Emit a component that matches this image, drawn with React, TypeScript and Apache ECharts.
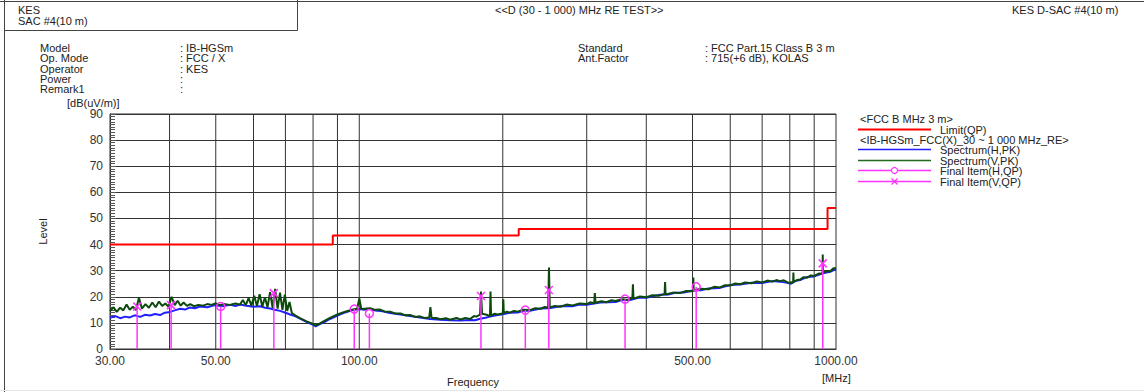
import React, { useEffect, useRef } from "react";
import * as echarts from "echarts";

// ---- data: [frequency MHz, level dB(uV/m)] ----
const limitQP: number[][] = [
  [30, 40], [88, 40], [88, 43.5], [216, 43.5], [216, 46], [960, 46], [960, 54], [1000, 54],
];

const spectrumH: number[][] = [
  [30, 12.0], [30.8, 12.6], [31.5, 11.8], [32.3, 12.4], [33.0, 12.1], [33.8, 12.9], [34.7, 12.3], [35.5, 13.1],
  [36.4, 12.8], [37.3, 13.4], [38.2, 13.0], [39.1, 13.9], [40.1, 14.2], [41.0, 14.8], [42.1, 15.4], [43.1, 15.1],
  [44.1, 15.9], [45.2, 15.6], [46.3, 16.3], [48.0, 16.0], [49.8, 16.8], [51.5, 16.4], [53.6, 16.9], [55.0, 16.5],
  [56.2, 17.0], [58.0, 16.6], [60.0, 16.2], [61.9, 16.4], [63.5, 15.8], [65.0, 15.5], [66.5, 15.0], [68.2, 14.6],
  [70.0, 13.9], [71.6, 13.2], [73.5, 12.5], [75.1, 11.6], [77.5, 10.4], [80.0, 9.3], [81.0, 8.7], [82.7, 9.5],
  [84.5, 10.3], [86.8, 11.5], [90.0, 12.8], [93.4, 14.0], [96.5, 14.8], [100, 15.3], [102.5, 15.0], [105.3, 15.4],
  [108, 14.7], [110.6, 14.6], [116, 13.8], [122, 13.2], [127.8, 12.6], [134, 12.1], [140.8, 11.5], [148, 11.2],
  [155, 11.0], [163, 10.9], [170.8, 11.1], [175, 11.0], [179.2, 11.6], [184, 12.0], [188, 12.4], [195, 13.0],
  [200, 13.3], [207, 13.9], [215, 14.0], [222, 14.7], [228, 14.6], [240, 15.5], [250, 15.6], [264, 16.4],
  [280, 16.4], [290, 17.0], [300, 16.9], [320, 17.8], [345, 18.0], [358, 18.9], [370, 18.8], [385, 19.6],
  [400, 19.6], [427, 20.8], [445, 20.9], [460, 21.5], [480, 21.6], [500, 22.4], [520, 22.5], [540, 23.2],
  [571, 23.4], [600, 24.5], [629, 24.7], [665, 25.4], [700, 25.3], [735, 26.0], [763, 25.8], [790, 25.4],
  [805, 25.0], [820, 26.0], [841, 26.4], [870, 27.6], [900, 27.8], [939, 29.0], [972, 29.6], [1000, 30.6],
];

const spectrumV: number[][] = [
  [30, 14.5], [30.5, 16.0], [31.0, 14.2], [31.5, 15.8], [32.0, 14.8], [32.5, 17.0], [33.0, 15.0], [33.5, 16.2],
  [34.0, 14.9], [34.5, 19.6], [35.0, 15.5], [35.6, 17.2], [36.2, 15.8], [36.8, 17.8], [37.4, 16.0], [38.0, 18.2],
  [38.6, 16.5], [39.2, 17.4], [39.8, 16.2], [40.4, 20.0], [41.0, 16.8], [41.6, 18.5], [42.2, 16.6], [42.8, 17.8],
  [43.5, 16.5], [44.2, 17.2], [45.0, 16.4], [46.0, 16.9], [47.0, 16.6], [48.0, 17.2], [49.0, 16.9], [50.0, 17.5],
  [51.0, 16.8], [52.0, 17.2], [53.5, 16.9], [55.0, 17.4], [56.2, 17.0], [57.0, 18.8], [57.8, 16.8], [58.6, 19.5],
  [59.4, 16.6], [60.2, 20.4], [61.0, 16.5], [61.8, 21.0], [62.6, 16.2], [63.4, 19.8], [64.2, 16.0], [65.0, 21.8],
  [65.8, 15.8], [66.6, 23.0], [67.4, 15.5], [68.2, 21.6], [69.0, 15.0], [69.8, 20.8], [70.6, 14.6], [71.4, 18.0],
  [72.2, 13.8], [73.5, 12.8], [75.1, 11.8], [77.5, 10.6], [80.0, 9.6], [81.0, 9.0], [82.7, 9.8], [84.5, 10.8],
  [86.8, 11.9], [90.0, 13.2], [93.4, 14.3], [96.5, 15.0], [99.0, 15.4], [100.0, 19.4], [101.0, 15.3],
  [105.3, 15.6], [108, 15.0], [110.6, 15.1], [113, 14.4], [116, 14.3], [119, 13.6], [122, 13.6], [125, 12.9],
  [127.8, 13.0], [131, 12.3], [134, 12.5], [137, 11.9], [140.2, 12.1], [141.0, 16.0], [141.8, 11.9], [145, 11.9],
  [148, 11.4], [152, 11.8], [155, 11.2], [160, 11.9], [163, 11.3], [167, 11.9], [170.8, 11.5], [174, 12.6],
  [176, 12.4], [179.2, 13.2], [180, 22.0], [181, 13.5], [185, 13.1], [188, 12.6], [188.5, 22.0], [189, 12.8],
  [192, 13.5], [195, 13.2], [200, 13.6], [200.5, 19.0], [201, 13.7], [204, 14.3], [207, 13.9], [211, 14.6],
  [215, 14.3], [220, 15.0], [228, 14.9], [234, 15.6], [240, 15.4], [245, 16.1], [249, 15.8], [250, 31.2],
  [251, 15.9], [257, 16.5], [264, 16.2], [272, 17.0], [280, 16.7], [290, 17.4], [300, 17.2], [305, 17.9],
  [311, 17.5], [312, 21.4], [313, 17.7], [322, 18.3], [330, 17.9], [338, 18.7], [345, 18.4], [355, 19.1],
  [365, 18.8], [374, 19.5], [375, 24.8], [376, 19.3], [388, 20.1], [400, 19.8], [412, 20.6], [425, 20.4],
  [437, 21.1], [438, 25.6], [439, 20.9], [455, 21.6], [470, 21.4], [485, 22.2], [501, 22.1], [502, 27.4],
  [503, 22.4], [520, 23.1], [540, 22.9], [555, 23.8], [571, 23.6], [585, 24.4], [600, 24.3], [615, 25.1],
  [629, 24.8], [645, 25.5], [665, 25.2], [682, 25.9], [700, 25.5], [718, 26.2], [735, 25.8], [750, 26.4],
  [763, 26.0], [777, 26.3], [790, 25.6], [798, 25.2], [805, 25.6], [813, 25.4], [814, 29.3], [815, 25.7],
  [828, 26.4], [841, 26.6], [855, 27.5], [870, 27.3], [885, 28.2], [900, 28.0], [920, 28.9], [937, 28.8],
  [938, 36.2], [939, 29.2], [955, 29.9], [972, 29.7], [986, 30.8], [1000, 31.0],
];

const finalH: number[][] = [[51.2, 16.3], [97.6, 15.3], [105.0, 13.6], [223, 14.9], [361, 19.1], [509, 23.8]];
const finalV: number[][] = [[34.2, 16.3], [40.3, 16.8], [66.2, 21.4], [180, 20.3], [249.8, 22.6], [938, 32.8]];

const gridFreqs = [40, 50, 60, 70, 80, 90, 100, 200, 300, 400, 500, 600, 700, 800, 900];
const xTickFreqs = [30, 50, 100, 500, 1000];
const xTickLabels = ["30.00", "50.00", "100.00", "500.00", "1000.00"];

const infoLeftLabels = ["Model", "Op. Mode", "Operator", "Power", "Remark1"];
const infoLeftValues = [": IB-HGSm", ": FCC / X", ": KES", ":", ":"];
const infoRightLabels = ["Standard", "Ant.Factor"];
const infoRightValues = [": FCC Part.15 Class B 3 m", ": 715(+6 dB), KOLAS"];

const legendTitles = ["<FCC B MHz 3 m>", "<IB-HGSm_FCC(X)_30 ~ 1 000 MHz_RE>"];
const legendItems = ["Limit(QP)", "Spectrum(H,PK)", "Spectrum(V,PK)", "Final Item(H,QP)", "Final Item(V,QP)"];

const FONT = "'Liberation Sans', Arial, sans-serif";
const MAG = "#ff33ff";
const RED = "#ff0000";
const BLUE = "#2020ff";
const GREEN = "#0c4a0c";
const GRID = "#333333";

export default function App() {
  const ref = useRef<HTMLDivElement>(null);

  useEffect(() => {
    const chart = echarts.init(ref.current as HTMLDivElement, null, { renderer: "svg" });

    const txt = (x: number, y: number, text: string, extra: any = {}) => ({
      type: "text",
      x,
      y,
      silent: true,
      style: { text, fill: "#222", fontSize: 11, fontFamily: FONT, verticalAlign: "middle", ...extra },
    });
    const ln = (x1: number, y1: number, x2: number, y2: number, stroke: string, lineWidth = 1) => ({
      type: "line",
      silent: true,
      shape: { x1, y1, x2, y2 },
      style: { stroke, lineWidth },
    });

    const graphics: any[] = [
      ln(0, 1.5, 1144, 1.5, "#444", 1),
      ln(4.5, 0, 4.5, 392, "#444", 1),
      ln(4.5, 30.5, 297.5, 30.5, "#444", 1),
      ln(297.5, 0, 297.5, 30.5, "#444", 1),
      ln(0, 390.5, 1144, 390.5, "#e4e4e4", 1),
      txt(18, 10, "KES"),
      txt(18, 21, "SAC #4(10 m)"),
      txt(495, 10, "<<D (30 - 1 000) MHz RE TEST>>"),
      txt(1012, 10, "KES D-SAC #4(10 m)"),
      txt(67, 103, "[dB(uV/m)]"),
      txt(822, 378, "[MHz]"),
    ];
    infoLeftLabels.forEach((t, i) => graphics.push(txt(40, 48 + i * 10.3, t)));
    infoLeftValues.forEach((t, i) => graphics.push(txt(180, 48 + i * 10.3, t)));
    infoRightLabels.forEach((t, i) => graphics.push(txt(578, 48 + i * 10.3, t)));
    infoRightValues.forEach((t, i) => graphics.push(txt(705, 48 + i * 10.3, t)));

    // legend
    const lx1 = 858, lx2 = 931, ltx = 940;
    graphics.push(txt(860, 119, legendTitles[0]));
    graphics.push(ln(lx1, 129.5, lx2, 129.5, RED, 2));
    graphics.push(txt(ltx, 130, legendItems[0]));
    graphics.push(txt(860, 140, legendTitles[1]));
    graphics.push(ln(lx1, 149.5, lx2, 149.5, BLUE, 1.3));
    graphics.push(txt(ltx, 150, legendItems[1]));
    graphics.push(ln(lx1, 160.5, lx2, 160.5, "#1f6a1f", 1.3));
    graphics.push(txt(ltx, 160.5, legendItems[2]));
    graphics.push(ln(lx1, 170.5, lx2, 170.5, MAG, 1.3));
    graphics.push({ type: "circle", silent: true, shape: { cx: 894.5, cy: 170.5, r: 3 }, style: { fill: "#fff", stroke: MAG, lineWidth: 1.2 } });
    graphics.push(txt(ltx, 171, legendItems[3]));
    graphics.push(ln(lx1, 181.5, lx2, 181.5, MAG, 1.3));
    graphics.push(ln(891.5, 178.5, 897.5, 184.5, MAG, 1.2));
    graphics.push(ln(897.5, 178.5, 891.5, 184.5, MAG, 1.2));
    graphics.push(txt(ltx, 181.5, legendItems[4]));

    const stemSeries = (data: number[][], kind: "o" | "x") => ({
      type: "custom",
      z: 5,
      data,
      encode: { x: 0, y: 1 },
      renderItem: (params: any, api: any) => {
        const f = api.value(0);
        const v = api.value(1);
        const b = api.coord([f, 0]);
        const t = api.coord([f, v]);
        const children: any[] = [
          { type: "line", shape: { x1: b[0], y1: b[1], x2: t[0], y2: t[1] }, style: { stroke: MAG, lineWidth: 1.5 } },
        ];
        if (kind === "o") {
          children.push({ type: "circle", shape: { cx: t[0], cy: t[1], r: 4 }, style: { fill: "none", stroke: MAG, lineWidth: 1.5 } });
        } else {
          const s = 4;
          children.push({ type: "line", shape: { x1: t[0] - s, y1: t[1] - s, x2: t[0] + s, y2: t[1] + s }, style: { stroke: MAG, lineWidth: 1.5 } });
          children.push({ type: "line", shape: { x1: t[0] + s, y1: t[1] - s, x2: t[0] - s, y2: t[1] + s }, style: { stroke: MAG, lineWidth: 1.5 } });
        }
        return { type: "group", children };
      },
    });

    chart.setOption({
      animation: false,
      backgroundColor: "#ffffff",
      textStyle: { fontFamily: FONT },
      grid: { left: 110, right: 308, top: 114, bottom: 42, show: true, borderColor: GRID, borderWidth: 1, backgroundColor: "transparent" },
      xAxis: {
        type: "log",
        logBase: 10,
        min: 30,
        max: 1000,
        name: "Frequency",
        nameLocation: "middle",
        nameGap: 27,
        nameTextStyle: { color: "#222", fontSize: 11, fontFamily: FONT },
        axisLine: { show: true, lineStyle: { color: GRID } },
        axisTick: { show: false },
        axisLabel: { show: false },
        splitLine: { show: false },
        minorSplitLine: { show: false },
      },
      yAxis: {
        type: "value",
        min: 0,
        max: 90,
        interval: 10,
        name: "Level",
        nameLocation: "middle",
        nameGap: 62,
        nameRotate: 90,
        nameTextStyle: { color: "#222", fontSize: 11, fontFamily: FONT },
        axisLine: { show: true, lineStyle: { color: GRID } },
        axisTick: { show: true, inside: true, length: 6, lineStyle: { color: "#555" } },
        minorTick: { show: true, splitNumber: 10, length: 5, lineStyle: { color: "#555" } },
        axisLabel: { color: "#333", fontSize: 12, fontFamily: FONT, margin: 7 },
        splitLine: { show: true, lineStyle: { color: GRID, width: 1 } },
      },
      graphic: graphics,
      series: [
        {
          type: "custom",
          z: 1,
          data: gridFreqs.map((f) => [f, 90]),
          encode: { x: 0, y: 1 },
          renderItem: (params: any, api: any) => {
            const f = api.value(0);
            const b = api.coord([f, 0]);
            const t = api.coord([f, api.value(1)]);
            return { type: "line", shape: { x1: b[0], y1: b[1], x2: t[0], y2: t[1] }, style: { stroke: GRID, lineWidth: 1 } };
          },
        },
        {
          type: "custom",
          z: 1,
          data: xTickFreqs.map((f) => [f, 0]),
          encode: { x: 0, y: 1 },
          renderItem: (params: any, api: any) => {
            const p = api.coord([api.value(0), 0]);
            return {
              type: "text",
              x: p[0],
              y: p[1] + 12,
              style: { text: xTickLabels[params.dataIndex], align: "center", verticalAlign: "middle", fill: "#333", fontSize: 12, fontFamily: FONT },
            };
          },
        },
        {
          type: "line",
          z: 3,
          data: spectrumH,
          showSymbol: false,
          symbol: "none",
          lineStyle: { color: BLUE, width: 2 },
        },
        {
          type: "line",
          z: 4,
          data: spectrumV,
          showSymbol: false,
          symbol: "none",
          lineStyle: { color: GREEN, width: 2 },
        },
        {
          type: "line",
          z: 6,
          data: limitQP,
          showSymbol: false,
          symbol: "none",
          lineStyle: { color: RED, width: 2 },
        },
        stemSeries(finalH, "o"),
        stemSeries(finalV, "x"),
      ],
    });

    return () => chart.dispose();
  }, []);

  return (
    <div
      ref={ref}
      style={{ position: "fixed", left: 0, top: 0, width: 1144, height: 392, background: "#fff" }}
    />
  );
}
